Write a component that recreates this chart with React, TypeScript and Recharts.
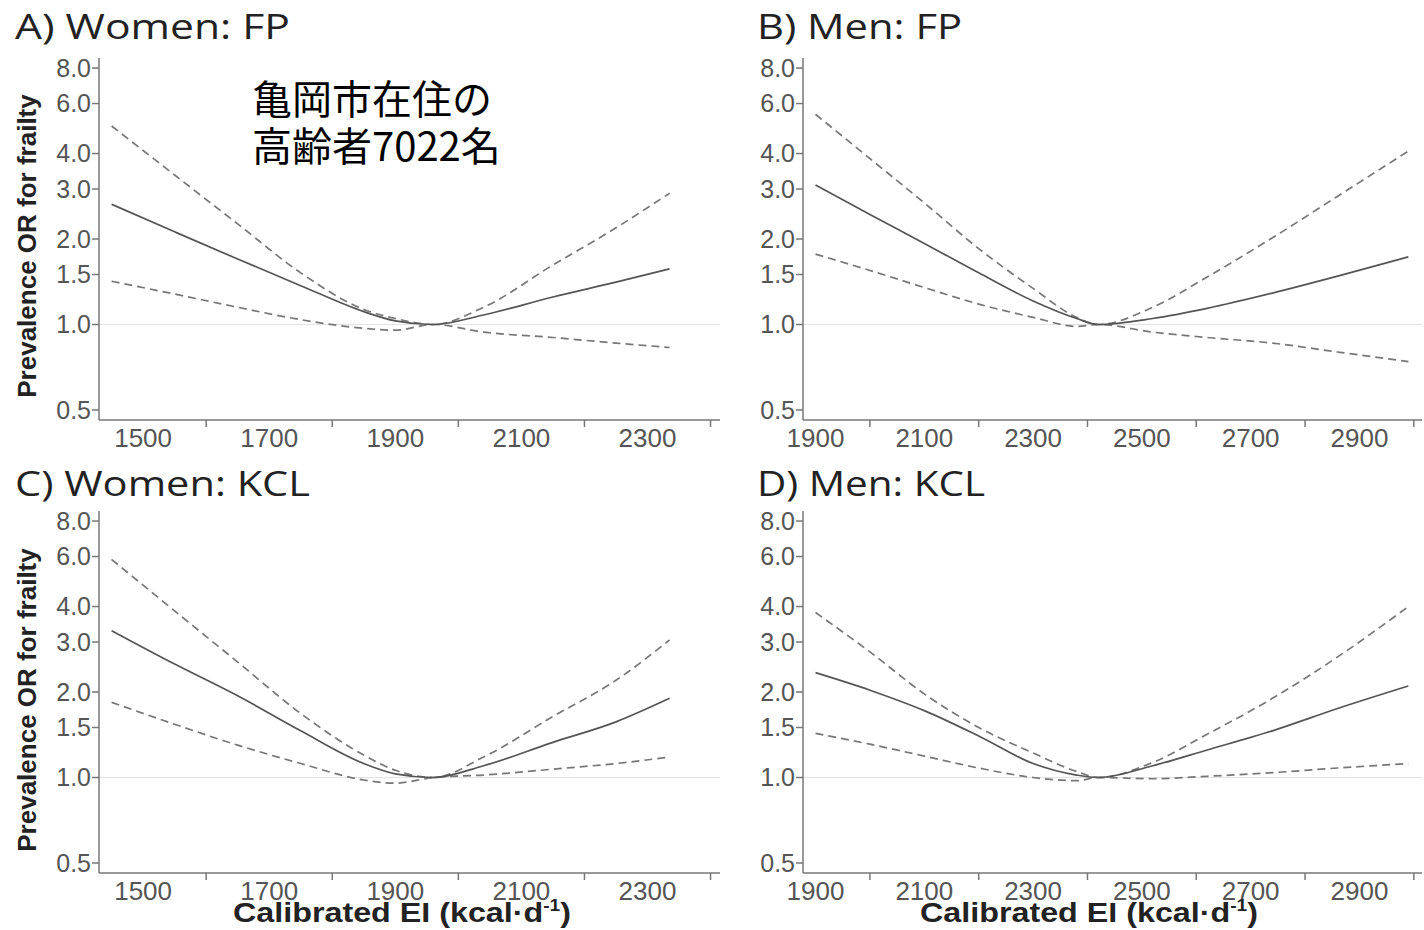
import React from 'react';
import { LineChart, Line, XAxis, YAxis, ReferenceLine } from 'recharts';

// Calibrated energy intake (kcal/d) grid points
const womenEI = [1450, 1550, 1650, 1750, 1850, 1900, 1960, 2040, 2150, 2250, 2335];
const menEI = [1900, 2000, 2100, 2200, 2300, 2380, 2420, 2520, 2620, 2740, 2860, 2990];

// A) Women: FP
const womenFpOR = [2.65, 2.12, 1.7, 1.37, 1.11, 1.03, 1.0, 1.08, 1.25, 1.41, 1.57];
const womenFpUpper = [5.0, 3.36, 2.26, 1.52, 1.13, 1.05, 1.0, 1.15, 1.62, 2.19, 2.9];
const womenFpLower = [1.42, 1.28, 1.15, 1.04, 0.97, 0.955, 1.0, 0.94, 0.9, 0.86, 0.83];

// B) Men: FP
const menFpOR = [3.1, 2.44, 1.93, 1.52, 1.21, 1.05, 1.0, 1.05, 1.14, 1.29, 1.48, 1.73];
const menFpUpper = [5.5, 3.84, 2.68, 1.85, 1.34, 1.06, 1.0, 1.15, 1.47, 2.02, 2.83, 4.08];
const menFpLower = [1.77, 1.55, 1.35, 1.18, 1.06, 0.985, 1.0, 0.94, 0.9, 0.86, 0.8, 0.74];

// C) Women: KCL
const womenKclOR = [3.29, 2.51, 1.94, 1.46, 1.12, 1.03, 1.0, 1.1, 1.33, 1.57, 1.9];
const womenKclUpper = [5.86, 3.86, 2.55, 1.68, 1.2, 1.06, 1.0, 1.18, 1.64, 2.2, 3.05];
const womenKclLower = [1.84, 1.54, 1.3, 1.12, 0.98, 0.955, 1.0, 1.02, 1.07, 1.12, 1.18];

// D) Men: KCL
const menKclOR = [2.34, 2.03, 1.72, 1.4, 1.12, 1.02, 1.0, 1.1, 1.25, 1.46, 1.75, 2.1];
const menKclUpper = [3.81, 2.77, 1.97, 1.5, 1.22, 1.05, 1.0, 1.13, 1.42, 1.9, 2.66, 4.0];
const menKclLower = [1.43, 1.31, 1.19, 1.08, 1.0, 0.975, 1.0, 0.99, 1.01, 1.04, 1.08, 1.12];

// axis ticks
const orTicks = [0.5, 1, 1.5, 2, 3, 4, 6, 8];
const womenTicks = [1500, 1600, 1700, 1800, 1900, 2000, 2100, 2200, 2300, 2400];
const womenLabels = [1500, 1700, 1900, 2100, 2300];
const menTicks = [1900, 2000, 2100, 2200, 2300, 2400, 2500, 2600, 2700, 2800, 2900, 3000];
const menLabels = [1900, 2100, 2300, 2500, 2700, 2900];

const titles = ['A) Women: FP', 'B) Men: FP', 'C) Women: KCL', 'D) Men: KCL'];
const note = ['亀岡市在住の', '高齢者7022名'];
const yTitle = 'Prevalence OR for frailty';

const build = (xs: number[], or: number[], lo: number[], hi: number[]) =>
  xs.map((x, i) => ({ x, or: or[i], lo: lo[i], hi: hi[i] }));

const TICK_FONT = "'Liberation Sans', Arial, sans-serif";

const makeXTick = (labels: number[]) => (props: any) => {
  const { x, y, payload } = props;
  const v = payload.value;
  if (labels.includes(v)) {
    return (
      <text x={x} y={y + 18} textAnchor="middle" dominantBaseline="central"
        fontSize={26} fill="#555" fontFamily={TICK_FONT}>{v}</text>
    );
  }
  return <line x1={x} x2={x} y1={y} y2={y + 7} stroke="#777" strokeWidth={1.5} />;
};

interface PanelProps {
  left: number;
  top: number;
  width: number;
  data: any[];
  domain: number[];
  ticks: number[];
  labels: number[];
  marginTop: number;
  marginLeft: number;
}

function Panel({ left, top, width, data, domain, ticks, labels, marginTop, marginLeft }: PanelProps) {
  return (
    <div style={{ position: 'absolute', left, top }}>
      <LineChart width={width} height={marginTop + 362 + 40}
        data={data} margin={{ top: marginTop, right: 2, bottom: 0, left: marginLeft }}>
        <XAxis dataKey="x" type="number" domain={domain} ticks={ticks} allowDataOverflow
          stroke="#777" strokeWidth={1.5} tickLine={false} tickSize={0} tickMargin={0}
          height={40} interval={0} tick={makeXTick(labels)} />
        <YAxis type="number" scale="log" domain={[0.461, 8.68]} ticks={orTicks} allowDataOverflow
          width={90} stroke="#777" strokeWidth={1.5} tickSize={7} tickMargin={1} interval={0}
          tick={{ fontSize: 25, fill: '#555', fontFamily: TICK_FONT }}
          tickFormatter={(v: number) => v.toFixed(1)} />
        <ReferenceLine y={1} stroke="#e2e2e2" strokeWidth={1.2} />
        <Line type="monotone" dataKey="hi" stroke="#777" strokeWidth={1.7} strokeDasharray="8 5"
          dot={false} isAnimationActive={false} />
        <Line type="monotone" dataKey="lo" stroke="#777" strokeWidth={1.7} strokeDasharray="8 5"
          dot={false} isAnimationActive={false} />
        <Line type="monotone" dataKey="or" stroke="#555" strokeWidth={1.7}
          dot={false} isAnimationActive={false} />
      </LineChart>
    </div>
  );
}

export default function App() {
  const womenDomain = [1430, 2415];
  const menDomain = [1877, 3015];
  const labelFont = "'Liberation Sans', Arial, sans-serif";
  const titleFont = "'Open Sans', 'Noto Sans', sans-serif";
  const noteFont = "'Noto Sans CJK JP', sans-serif";

  const title = (text: string, x: number, y: number, len: number) => (
    <text x={x} y={y} fontSize={35} fill="#222" fontFamily={titleFont}
      textLength={len} lengthAdjust="spacingAndGlyphs">{text}</text>
  );

  const xTitle = (cx: number) => (
    <text x={cx} y={922} textAnchor="middle" fontSize={27} fontWeight="bold" fill="#222" fontFamily={labelFont}
      textLength={338} lengthAdjust="spacingAndGlyphs">
      Calibrated EI (kcal·d<tspan fontSize={16} dy={-11}>-1</tspan><tspan dy={11}>)</tspan>
    </text>
  );

  return (
    <div style={{ position: 'absolute', left: 0, top: 0, width: 1424, height: 930, background: '#fff', overflow: 'hidden' }}>
      <Panel left={0} top={0} width={722} data={build(womenEI, womenFpOR, womenFpLower, womenFpUpper)}
        domain={womenDomain} ticks={womenTicks} labels={womenLabels} marginTop={58} marginLeft={9} />
      <Panel left={712} top={0} width={712} data={build(menEI, menFpOR, menFpLower, menFpUpper)}
        domain={menDomain} ticks={menTicks} labels={menLabels} marginTop={58} marginLeft={1} />
      <Panel left={0} top={460} width={722} data={build(womenEI, womenKclOR, womenKclLower, womenKclUpper)}
        domain={womenDomain} ticks={womenTicks} labels={womenLabels} marginTop={51} marginLeft={9} />
      <Panel left={712} top={460} width={712} data={build(menEI, menKclOR, menKclLower, menKclUpper)}
        domain={menDomain} ticks={menTicks} labels={menLabels} marginTop={51} marginLeft={1} />

      <svg width={1424} height={930} style={{ position: 'absolute', left: 0, top: 0, pointerEvents: 'none' }}>
        {title(titles[0], 15, 39, 275)}
        {title(titles[1], 757, 39, 205)}
        {title(titles[2], 15, 496, 295)}
        {title(titles[3], 757, 496, 228)}

        <text x={252} y={114} fontSize={40} fill="#000" fontFamily={noteFont}>{note[0]}</text>
        <text x={252} y={161} fontSize={40} fill="#000" fontFamily={noteFont}>{note[1]}</text>

        <text transform="translate(36,246) rotate(-90)" textAnchor="middle" fontSize={26} fontWeight="bold"
          fill="#222" fontFamily={labelFont}>{yTitle}</text>
        <text transform="translate(36,700) rotate(-90)" textAnchor="middle" fontSize={26} fontWeight="bold"
          fill="#222" fontFamily={labelFont}>{yTitle}</text>

        {xTitle(402)}
        {xTitle(1089)}
      </svg>
    </div>
  );
}
